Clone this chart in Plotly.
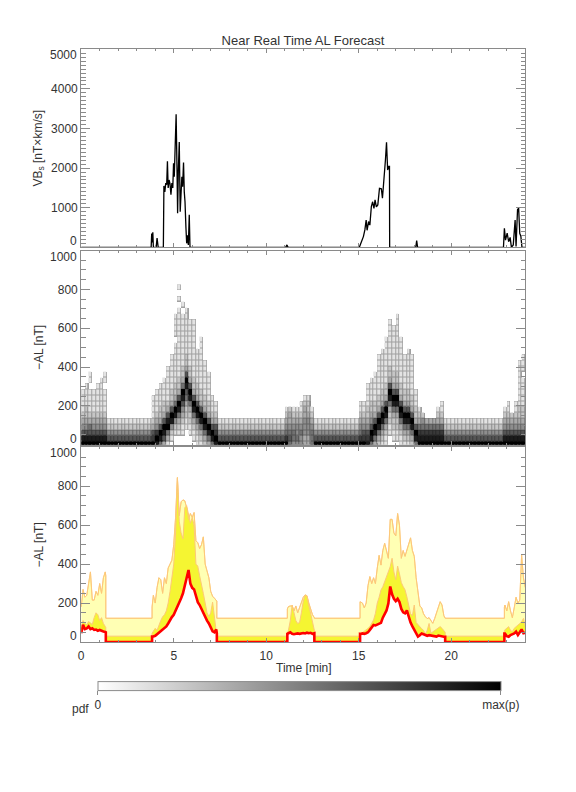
import plotly.graph_objects as go

FONT = "Liberation Sans"
TXT = "#333333"
AX = "#8a8a8a"

# ---------------- top panel: VBs ----------------
vbs_time = [0.0, 3.78, 3.81, 3.84, 3.87, 3.90, 4.05, 4.10, 4.16, 4.44, 4.47, 4.52, 4.57, 4.62, 4.66,
            4.70, 4.75, 4.80, 4.85, 4.90, 4.95, 4.99, 5.03, 5.08, 5.13, 5.18, 5.21, 5.25, 5.30, 5.35,
            5.40, 5.44, 5.48, 5.53, 5.57, 5.61, 5.66, 5.70, 5.75, 5.79, 5.84, 5.88, 11.05, 11.12, 11.18,
            15.03, 15.25, 15.33, 15.40, 15.45, 15.53, 15.60, 15.68, 15.75, 15.82, 15.88, 15.95, 16.03,
            16.12, 16.22, 16.28, 16.36, 16.40, 16.44, 16.50, 16.56, 16.62, 16.66, 16.67, 18.08, 18.13,
            18.18, 22.82, 22.87, 22.93, 23.02, 23.10, 23.18, 23.25, 23.35, 23.45, 23.50, 23.58, 23.64,
            23.70, 23.76, 23.82, 24.0]
vbs_value = [0, 0, 350, 120, 380, 0, 0, 230, 0, 0, 1550, 1400, 1620, 1580, 2170,
             1500, 1700, 1600, 1330, 1620, 1500, 2120, 1780, 2400, 3360, 1900, 860, 1950, 2660, 900,
             1550, 1780, 1530, 2140, 1400, 1150, 500, 100, 300, 60, 820, 0, 0, 60, 0,
             0, 270, 440, 690, 430, 650, 560, 1030, 1150, 980, 1200, 1020, 1070,
             1490, 1480, 1240, 1700, 1780, 2200, 2650, 1950, 2040, 2040, 0, 0, 170,
             0, 0, 480, 180, 360, 140, 250, 0, 60, 690, 20, 950, 990,
             350, 280, 0, 0]

# ---------------- bottom panel: AL forecast ----------------
al_time = [0.0, 0.1, 0.2, 0.3, 0.4, 0.5, 0.6, 0.7, 0.8, 0.9, 1.0, 1.1, 1.2, 1.3, 1.33,
           1.33, 3.83,
           3.83, 3.9, 4.0, 4.1, 4.2, 4.3, 4.4, 4.5, 4.6, 4.7, 4.8, 4.9, 5.0, 5.1, 5.2, 5.3, 5.4, 5.5,
           5.6, 5.7, 5.8, 5.9, 6.0, 6.1, 6.2, 6.3, 6.4, 6.5, 6.6, 6.7, 6.8, 6.9, 7.0, 7.1, 7.2, 7.3, 7.33,
           7.33, 11.14,
           11.14, 11.2, 11.3, 11.4, 11.5, 11.6, 11.7, 11.8, 11.9, 12.0, 12.1, 12.2, 12.3, 12.4, 12.5, 12.6,
           12.6, 15.07,
           15.07, 15.1, 15.2, 15.3, 15.4, 15.5, 15.6, 15.7, 15.8, 15.9,
           16.0, 16.1, 16.2, 16.3, 16.4, 16.5, 16.6, 16.7, 16.8, 16.9,
           17.0, 17.1, 17.2, 17.3, 17.4, 17.5, 17.6, 17.7, 17.8, 17.9,
           18.0, 18.1, 18.2, 18.3, 18.4, 18.5, 18.6, 18.7, 18.8, 18.9,
           19.0, 19.1, 19.2, 19.3, 19.4, 19.5, 19.6, 19.67,
           19.67, 22.87,
           22.87, 22.9, 23.0, 23.1, 23.2, 23.3, 23.4, 23.5, 23.6, 23.7, 23.8, 23.9, 24.0]
al_median = [45, 88, 66, 70, 80, 66, 70, 62, 64, 58, 62, 56, 54, 52, 50,
             0, 0,
             28, 28, 32, 40, 48, 52, 60, 72, 80, 95, 115, 128, 140, 160, 180, 200, 225, 250,
             290, 335, 370, 300, 278, 270, 240, 205, 190, 168, 150, 130, 110, 95, 75, 55, 50, 65, 45,
             0, 0,
             42, 45, 50, 42, 40, 42, 44, 42, 45, 46, 44, 48, 45, 47, 42, 45,
             0, 0,
             41, 40, 44, 42, 45, 50, 62, 75, 87, 85,
             90, 96, 98, 125, 140, 162, 198, 285, 245, 222,
             210, 222, 205, 170, 152, 147, 162, 125, 100, 80,
             60, 40, 28, 35, 44, 40, 36, 32, 35, 33,
             32, 30, 28, 33, 30, 30, 27, 27,
             0, 0,
             44, 44, 30, 27, 36, 40, 44, 53, 36, 50, 65, 45, 48]
al_inner = [80, 110, 95, 88, 105, 95, 90, 125, 150, 140, 110, 125, 95, 80, 75,
            30, 30,
            45, 55, 70, 60, 90, 110, 130, 140, 160, 200, 260, 330, 400, 560, 840, 620, 560, 530,
            690, 700, 660, 610, 640, 600, 400, 390, 340, 300, 250, 200, 150, 130, 150, 205, 130, 75, 60,
            30, 30,
            45, 60, 110, 190, 140, 110, 95, 100, 150, 210, 240, 235, 190, 140, 100, 60,
            30, 30,
            45, 50, 48, 55, 60, 70, 79, 100, 113, 147,
            200, 230, 267, 284, 310, 336, 370, 387, 430, 360,
            320, 390, 350, 305, 285, 268, 232, 190, 145, 135,
            190, 100, 88, 78, 68, 60, 40, 60, 95, 45,
            52, 56, 62, 70, 79, 70, 60, 50,
            30, 30,
            60, 62, 70, 79, 60, 53, 70, 80, 87, 95, 104, 121, 80]
al_outer = [180, 270, 230, 240, 300, 360, 215, 215, 260, 240, 300, 250, 330, 360, 340,
            122, 122,
            180, 240, 200, 280, 330, 320, 250, 330, 300, 380, 400, 420, 500, 640, 845, 650, 720, 730,
            725, 690, 630, 660, 640, 665, 520, 510, 480, 500, 540, 400, 365, 330, 260, 235, 225, 215, 210,
            122, 122,
            170, 182, 185, 185, 160, 185, 150, 180, 200, 230, 242, 238, 200, 165, 140, 125,
            122, 122,
            207, 205, 200, 175, 200, 290, 336, 300, 330, 300,
            380, 445, 395, 470, 507, 460, 430, 630, 630, 560,
            545, 660, 600, 430, 470, 440, 475, 510, 535, 470,
            440, 330, 245, 185, 175, 145, 130, 120, 125, 110,
            96, 120, 150, 185, 207, 190, 135, 122,
            122, 122,
            180, 190, 160, 207, 160, 125, 175, 230, 200, 215, 447, 330, 280]

# ---------------- middle panel: pdf heat map ----------------
# one string per 0.2-min column, bottom-up, one digit per 30-nT bin (0 = empty, 9 = max)
pdf_time_start = 0.1
pdf_time_step = 0.2
pdf_al_start = 0
pdf_al_step = 30
pdf_columns = [
    "9864321111", "98643221111", "9865321111011", "9864321111", "98643211111",
    "986432111111", "9864321111011",
    "96421", "96421", "96421", "96421", "96421", "96421",
    "96421", "96421", "96421", "96421", "96421", "96421",
    "976321111", "8974321111", "58963221111", "368963221111", "13598632111111",
    "0124896322111111", "00124895322111111101111", "0012358963221111111111110101",
    "0011234689532211111111101", "000112235689632211111111", "0011223589632211111111",
    "0112358963221111111111", "11235896322111111", "1235896322111111111",
    "235896322111111", "3589632211111", "589632111", "89763211",
    "96421", "96421", "96421", "96421", "96421", "96421",
    "96421", "96421", "96421", "96421", "96421", "96421",
    "96421", "96421", "96421", "96421", "96421", "96421",
    "9754321", "5654332", "4554321", "4544321", "44543211", "334443321", "334443221", "5554321",
    "96421", "96421", "96421", "96421", "96421", "96421",
    "96421", "96421", "96421", "96421", "96421", "96421",
    "97543211", "97643211", "87643221111", "589643221111", "3589632211111",
    "2358963221111111", "12358963221111111", "1123589632211111111",
    "0011223589632211111111", "011223589632211111111", "01122358963221111111111",
    "1123589632211111111", "1235896322111111", "12358963221111111", "2358963221111111",
    "5896322111", "9875321", "987542", "98753", "98753", "98753", "9875321", "98753211", "96421",
    "96421", "96421", "96421", "96421", "96421",
    "96421", "96421", "96421", "96421", "96421",
    "96421", "96421", "96421", "96421", "96421",
    "9864321", "98643211", "986432", "98643211", "986432211111111", "9864322111110111",
]
pdf_levels = 9

assert len(al_time) == len(al_median) == len(al_inner) == len(al_outer)
assert len(vbs_time) == len(vbs_value)
assert len(pdf_columns) == 120, len(pdf_columns)

nrows = max(len(s) for s in pdf_columns)
z = [[None] * len(pdf_columns) for _ in range(nrows)]
for c, s in enumerate(pdf_columns):
    for r, ch in enumerate(s):
        if ch != "0":
            z[r][c] = int(ch)

# ---------------- layout geometry (paper fractions, margins = 0) ----------------
W, H = 576, 792
XL, XR = 81.2, 525.3
def ydom(top_px, bot_px):
    return [1 - bot_px / H, 1 - top_px / H]
xdom = [XL / W, XR / W]

fig = go.Figure()

# top
fig.add_trace(go.Scatter(x=vbs_time, y=vbs_value, mode="lines",
                         line=dict(color="black", width=1.3), xaxis="x", yaxis="y",
                         showlegend=False, hoverinfo="skip"))

# middle heat map: darker underlay gives the cell outlines
fig.add_trace(go.Heatmap(z=z, x0=pdf_time_start, dx=pdf_time_step, y0=pdf_al_start, dy=pdf_al_step,
                         zmin=0, zmax=pdf_levels,
                         colorscale=[[0, "#b4b4b4"], [1, "#000000"]], showscale=False,
                         xaxis="x2", yaxis="y2", hoverinfo="skip"))
fig.add_trace(go.Heatmap(z=z, x0=pdf_time_start, dx=pdf_time_step, y0=pdf_al_start, dy=pdf_al_step,
                         zmin=0, zmax=pdf_levels, xgap=1, ygap=1,
                         colorscale=[[0, "#ffffff"], [1, "#000000"]], showscale=True,
                         xaxis="x2", yaxis="y2", hoverinfo="skip",
                         colorbar=dict(orientation="h", x=(97.7 + 501) / 2 / W, xanchor="center",
                                       y=1 - 713 / H, yanchor="bottom", len=403, lenmode="pixels",
                                       thickness=9, thicknessmode="pixels", outlinecolor=AX,
                                       outlinewidth=1, tickvals=[0, pdf_levels], ticktext=["0", "max(p)"],
                                       ticks="outside", ticklen=4, tickcolor=AX, xpad=0, ypad=0,
                                       tickfont=dict(family=FONT, size=12, color=TXT))))

# bottom: bands
LY = "#ffffb4"
YY = "#f5f532"
OR = "#fdc878"
common = dict(xaxis="x3", yaxis="y3", showlegend=False, hoverinfo="skip", mode="lines")
fig.add_trace(go.Scatter(x=al_time, y=al_median, line=dict(width=0, color=LY), **common))
fig.add_trace(go.Scatter(x=al_time, y=al_outer, fill="tonexty", fillcolor=LY,
                         line=dict(width=1, color=OR), **common))
fig.add_trace(go.Scatter(x=al_time, y=al_median, line=dict(width=0, color=YY), **common))
fig.add_trace(go.Scatter(x=al_time, y=al_inner, fill="tonexty", fillcolor=YY,
                         line=dict(width=1, color=OR), **common))
fig.add_trace(go.Scatter(x=al_time, y=al_outer, line=dict(width=0.8, color=OR), **common))
fig.add_trace(go.Scatter(x=al_time, y=al_median, line=dict(width=2.6, color="#ff0000"), **common))

tickfont = dict(family=FONT, size=12, color=TXT)

def xaxis(anchor, labels):
    return dict(domain=xdom, anchor=anchor, range=[0, 24], showline=True, linecolor=AX, linewidth=1,
                mirror="ticks", ticks="inside", ticklen=4, tickcolor=AX, tickwidth=1,
                tick0=0, dtick=5, minor=dict(dtick=1, ticks="inside", ticklen=2, tickcolor=AX),
                showgrid=False, zeroline=False, showticklabels=labels, tickfont=tickfont,
                ticklabelstandoff=3, automargin=False)

def yaxis(anchor, dom, top, dt, mdt):
    vals = list(range(dt, top, dt))   # interior labelled ticks; the ends are written separately
    return dict(domain=dom, anchor=anchor, range=[0, top], showline=True, linecolor=AX, linewidth=1,
                mirror="ticks", ticks="inside", ticklen=9, tickcolor=AX, tickwidth=1,
                tickmode="array", tickvals=vals,
                minor=dict(dtick=mdt, tick0=0, ticks="inside", ticklen=4.5, tickcolor=AX),
                showgrid=False, zeroline=False, tickfont=tickfont, automargin=False)

d1 = ydom(49.3, 247.3)
d2 = ydom(250.5, 444.7)
d3 = ydom(447.3, 642.0)

fig.update_layout(
    width=W, height=H, margin=dict(l=0, r=0, t=0, b=0),
    paper_bgcolor="white", plot_bgcolor="white", showlegend=False,
    title=dict(text="Near Real Time AL Forecast", x=303 / W, y=1 - 40 / H, xanchor="center",
               yanchor="middle", xref="container", yref="container",
               font=dict(family=FONT, size=13, color=TXT)),
    xaxis=xaxis("y", False), yaxis=yaxis("x", d1, 5000, 1000, 100),
    xaxis2=xaxis("y2", False), yaxis2=yaxis("x2", d2, 1000, 200, 50),
    xaxis3=xaxis("y3", True), yaxis3=yaxis("x3", d3, 1000, 200, 50),
)

# end-of-axis tick labels (nudged inward as in the reference)
for yref, top in [("y", 5000), ("y2", 1000), ("y3", 1000)]:
    fig.add_annotation(text=str(top), x=(XL - 3.5) / W, xref="paper", y=top, yref=yref, yshift=-6,
                       xanchor="right", yanchor="middle", showarrow=False, font=tickfont, borderpad=0)
    fig.add_annotation(text="0", x=(XL - 3.5) / W, xref="paper", y=0, yref=yref, yshift=6,
                       xanchor="right", yanchor="middle", showarrow=False, font=tickfont, borderpad=0)

ann = [
    dict(text="VB<sub>s</sub> [nT×km/s]", x=38.5 / W, y=1 - 148 / H, size=12, angle=-90),
    dict(text="−AL [nT]", x=38.5 / W, y=1 - 347.6 / H, size=12, angle=-90),
    dict(text="−AL [nT]", x=38.5 / W, y=1 - 545 / H, size=12, angle=-90),
    dict(text="Time [min]", x=303.5 / W, y=1 - 668 / H, size=12),
    dict(text="pdf", x=80 / W, y=1 - 708.5 / H, size=12),
]
for a in ann:
    fig.add_annotation(text=a["text"], x=a["x"], y=a["y"], xref="paper", yref="paper",
                       xanchor="center", yanchor="middle", showarrow=False,
                       textangle=a.get("angle", 0),
                       font=dict(family=FONT, size=a["size"], color=TXT))

fig.write_html("out.html", config={"displayModeBar": False},
               post_script="document.body.style.margin='0';")
